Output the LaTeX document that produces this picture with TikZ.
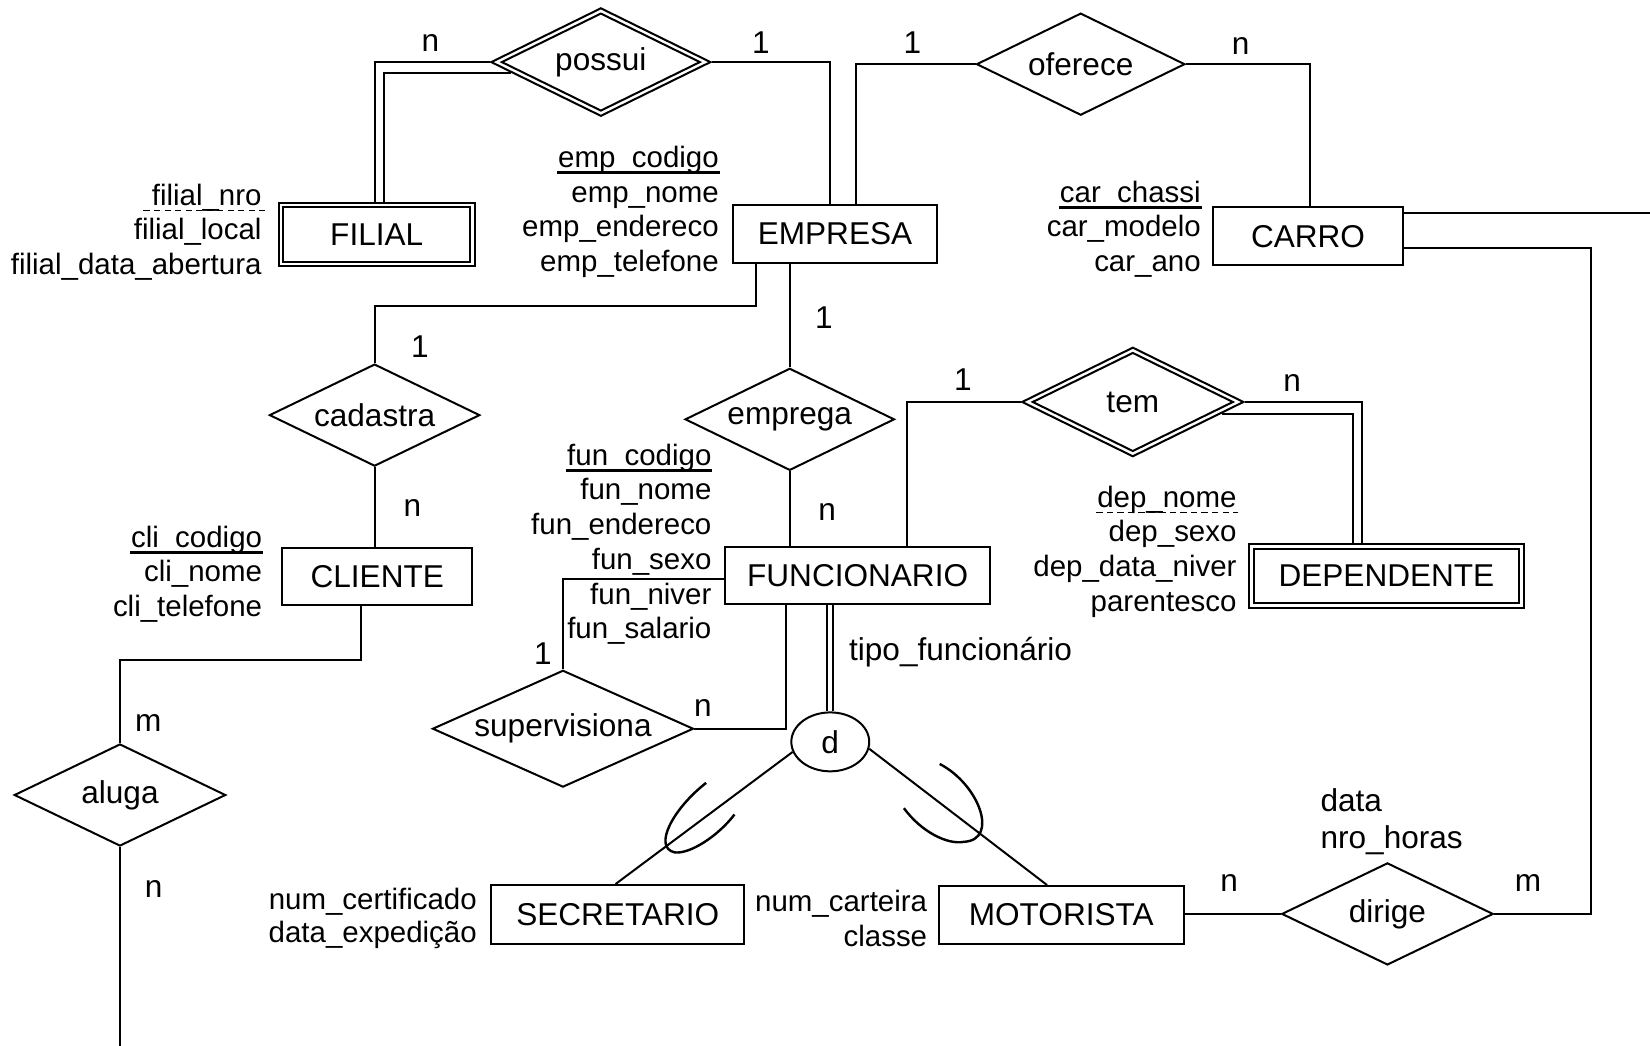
\documentclass[tikz,border=0pt]{standalone}
\usepackage{fontspec}
\setmainfont{Liberation Sans}
\usetikzlibrary{shapes.geometric,calc}
\begin{document}
\begin{tikzpicture}[x=0.5pt,y=-0.5pt, line width=0.95pt,
  ent/.style={draw, rectangle, inner sep=0pt, font=\fontsize{15}{18}\selectfont},
  entin/.style={draw, rectangle, inner sep=0pt},
  rel/.style={draw, diamond, aspect=2, inner sep=0pt, font=\fontsize{15}{18}\selectfont},
  relin/.style={draw, diamond, inner sep=0pt},
  attr/.style={inner sep=0pt, font=\fontsize{14}{16}\selectfont, anchor=base east},
  lbl/.style={inner sep=0pt, font=\fontsize{15}{18}\selectfont},
  keyline/.style={line width=1.2pt},
  partline/.style={line width=0.7pt, dash pattern=on 3pt off 2pt},
  subarc/.style={line width=1.15pt},
]
\useasboundingbox (0,0) rectangle (1568,994);

% entities
\node[ent, minimum width=93pt, minimum height=30pt] (filial) at (358,223) {FILIAL};
\node[entin, minimum width=89pt, minimum height=26pt] (filialin) at (358,223) {};
\node[ent, minimum width=96.5pt, minimum height=27.5pt] (empresa) at (793.5,222.5) {EMPRESA};
\node[ent, minimum width=90pt, minimum height=27.5pt] (carro) at (1243,224.5) {CARRO};
\node[ent, minimum width=90.5pt, minimum height=27pt] (cliente) at (358.5,548) {CLIENTE};
\node[ent, minimum width=126pt, minimum height=27pt] (funcionario) at (815,547) {FUNCIONARIO};
\node[ent, minimum width=130.5pt, minimum height=30.5pt] (dependente) at (1317.5,547.5) {DEPENDENTE};
\node[entin, minimum width=126pt, minimum height=26pt] (dependentein) at (1317.5,547.5) {};
\node[ent, minimum width=120pt, minimum height=28pt] (secretario) at (587,869) {SECRETARIO};
\node[ent, minimum width=116.5pt, minimum height=27.5pt] (motorista) at (1008.5,869.5) {MOTORISTA};

% relationships
\node[rel, minimum width=104.5pt, minimum height=51.5pt] (possui) at (571,59) {possui};
\node[relin, minimum width=94.5pt, minimum height=46.5pt] (possuiin) at (571,59) {};
\node[rel, minimum width=99pt, minimum height=48.5pt] (oferece) at (1027,61) {oferece};
\node[rel, minimum width=100pt, minimum height=48.5pt] (cadastra) at (356,394.5) {cadastra};
\node[rel, minimum width=99.5pt, minimum height=48.5pt] (emprega) at (750.5,398.5) {emprega};
\node[rel, minimum width=105.5pt, minimum height=52pt] (tem) at (1076.5,382) {tem};
\node[relin, minimum width=95.5pt, minimum height=47pt] (temin) at (1076.5,382) {};
\node[rel, aspect=2.2, minimum width=124pt, minimum height=55.5pt] (supervisiona) at (535,692.5) {supervisiona};
\node[rel, minimum width=100.5pt, minimum height=48.5pt] (aluga) at (114,755.5) {aluga};
\node[rel, minimum width=100.5pt, minimum height=48.5pt] (dirige) at (1318.5,868.5) {dirige};
\node[draw, ellipse, inner sep=0pt, minimum width=37pt, minimum height=28pt, font=\fontsize{15}{18}\selectfont] (d) at (789,705) {d};

% attributes
\node[attr] (fil1) at (249.5,195) {filial\_nro};
\node[attr] (fil2) at (249.5,228) {filial\_local};
\node[attr] (fil3) at (249.5,261) {filial\_data\_abertura};
\draw[partline] ($(fil1.base west)+(-7,5)$) -- ($(fil1.base east)+(2,5)$);

\node[attr] (emp1) at (684,159) {emp\_codigo};
\node[attr] (emp2) at (684,192) {emp\_nome};
\node[attr] (emp3) at (684,225) {emp\_endereco};
\node[attr] (emp4) at (684,258) {emp\_telefone};
\draw[keyline] ($(emp1.base west)+(0,5)$) -- ($(emp1.base east)+(0,5)$);

\node[attr] (car1) at (1142,192) {car\_chassi};
\node[attr] (car2) at (1142,225) {car\_modelo};
\node[attr] (car3) at (1142,258) {car\_ano};
\draw[keyline] ($(car1.base west)+(0,5)$) -- ($(car1.base east)+(0,5)$);

\node[attr] (cli1) at (250,520) {cli\_codigo};
\node[attr] (cli2) at (250,553) {cli\_nome};
\node[attr] (cli3) at (250,586) {cli\_telefone};
\draw[keyline] ($(cli1.base west)+(0,5)$) -- ($(cli1.base east)+(0,5)$);

\node[attr] (fun1) at (677,442) {fun\_codigo};
\node[attr] (fun2) at (677,475) {fun\_nome};
\node[attr] (fun3) at (677,508) {fun\_endereco};
\node[attr] (fun4) at (677,541) {fun\_sexo};
\node[attr] (fun5) at (677,574) {fun\_niver};
\node[attr] (fun6) at (677,607) {fun\_salario};
\draw[keyline] ($(fun1.base west)+(0,5)$) -- ($(fun1.base east)+(0,5)$);

\node[attr] (dep1) at (1176,482) {dep\_nome};
\node[attr] (dep2) at (1176,515) {dep\_sexo};
\node[attr] (dep3) at (1176,548) {dep\_data\_niver};
\node[attr] (dep4) at (1176,581) {parentesco};
\draw[partline] ($(dep1.base west)+(0,5)$) -- ($(dep1.base east)+(0,5)$);

\node[attr] (sec1) at (454,864) {num\_certificado};
\node[attr] (sec2) at (454,896) {data\_expedição};
\node[attr] (mot1) at (882,866) {num\_carteira};
\node[attr] (mot2) at (882,899) {classe};

\node[lbl, anchor=base west] (dir1) at (1254,771) {data};
\node[lbl, anchor=base west] (dir2) at (1254,806) {nro\_horas};
\node[lbl, anchor=base west] (tipo) at (806,628) {tipo\_funcionário};

% cardinalities
\node[lbl] (c1) at (409,41) {n};
\node[lbl] (c2) at (723,41) {1};
\node[lbl] (c3) at (867,41) {1};
\node[lbl] (c4) at (1179,44) {n};
\node[lbl] (c5) at (399,329.5) {1};
\node[lbl] (c6) at (783,302) {1};
\node[lbl] (c7) at (392,483) {n};
\node[lbl] (c8) at (141,687) {m};
\node[lbl] (c9) at (146,845) {n};
\node[lbl] (c10) at (786,486.5) {n};
\node[lbl] (c11) at (915,361) {1};
\node[lbl] (c12) at (1228,364) {n};
\node[lbl] (c13) at (516,621) {1};
\node[lbl] (c14) at (668,673) {n};
\node[lbl] (c15) at (1168,839) {n};
\node[lbl] (c16) at (1452,839) {m};

% connectors
\draw ($(filial.north)+(-2,0)$) |- (possui.west);
\draw ($(filial.north)+(7,0)$) |- ($(possui.west)+(20,10)$);
\draw (possui.east) -| ($(empresa.north)+(-4.5,0)$);
\draw ($(empresa.north)+(19.5,0)$) |- (oferece.west);
\draw (oferece.east) -| ($(carro.north)+(2,0)$);
\coordinate (carroout) at (1568,202.5);
\draw ($(carro.east)+(0,-22)$) -- (carroout);
\draw (dirige.east) -- ++(91.5,0) |- ($(carro.east)+(0,11)$);
\draw ($(empresa.south)+(-75,0)$) -- ++(0,39.5) -| (cadastra.north);
\draw (emprega.north |- empresa.south) -- (emprega.north);
\draw (emprega.south) -- (emprega.south |- funcionario.north);
\draw (cadastra.south) -- (cadastra.south |- cliente.north);
\draw ($(cliente.south)+(-15.5,0)$) -- ++(0,51) -| (aluga.north);
\coordinate (alugaout) at (114,994);
\draw (aluga.south) -- (alugaout);
\draw ($(funcionario.north)+(47,0)$) |- (tem.west);
\draw (tem.east) -| ($(dependente.north)+(-23.5,0)$);
\draw ($(tem.east)+(-22,11)$) -| ($(dependente.north)+(-32,0)$);
\draw ($(funcionario.west)+(0,3)$) -| (supervisiona.north);
\draw ($(funcionario.south)+(-68,0)$) |- (supervisiona.east);
\draw[double, double distance=1.9pt] (funcionario.south -| d.north) -- (d.north);
\draw (d.195) -- ($(secretario.north)+(-2,0)$);
\draw (d.350) -- ($(motorista.north)+(-13.5,0)$);
\draw (motorista.east |- dirige.west) -- (dirige.west);

% subset marks
\draw[subarc] (671,744) .. controls (640,768) and (620,805) .. (641,810) .. controls (655,812) and (682,795) .. (698,774);
\draw[subarc] (893,726) .. controls (930,745) and (950,798) .. (916,800) .. controls (900,803) and (875,790) .. (859,768);
\end{tikzpicture}
\end{document}
